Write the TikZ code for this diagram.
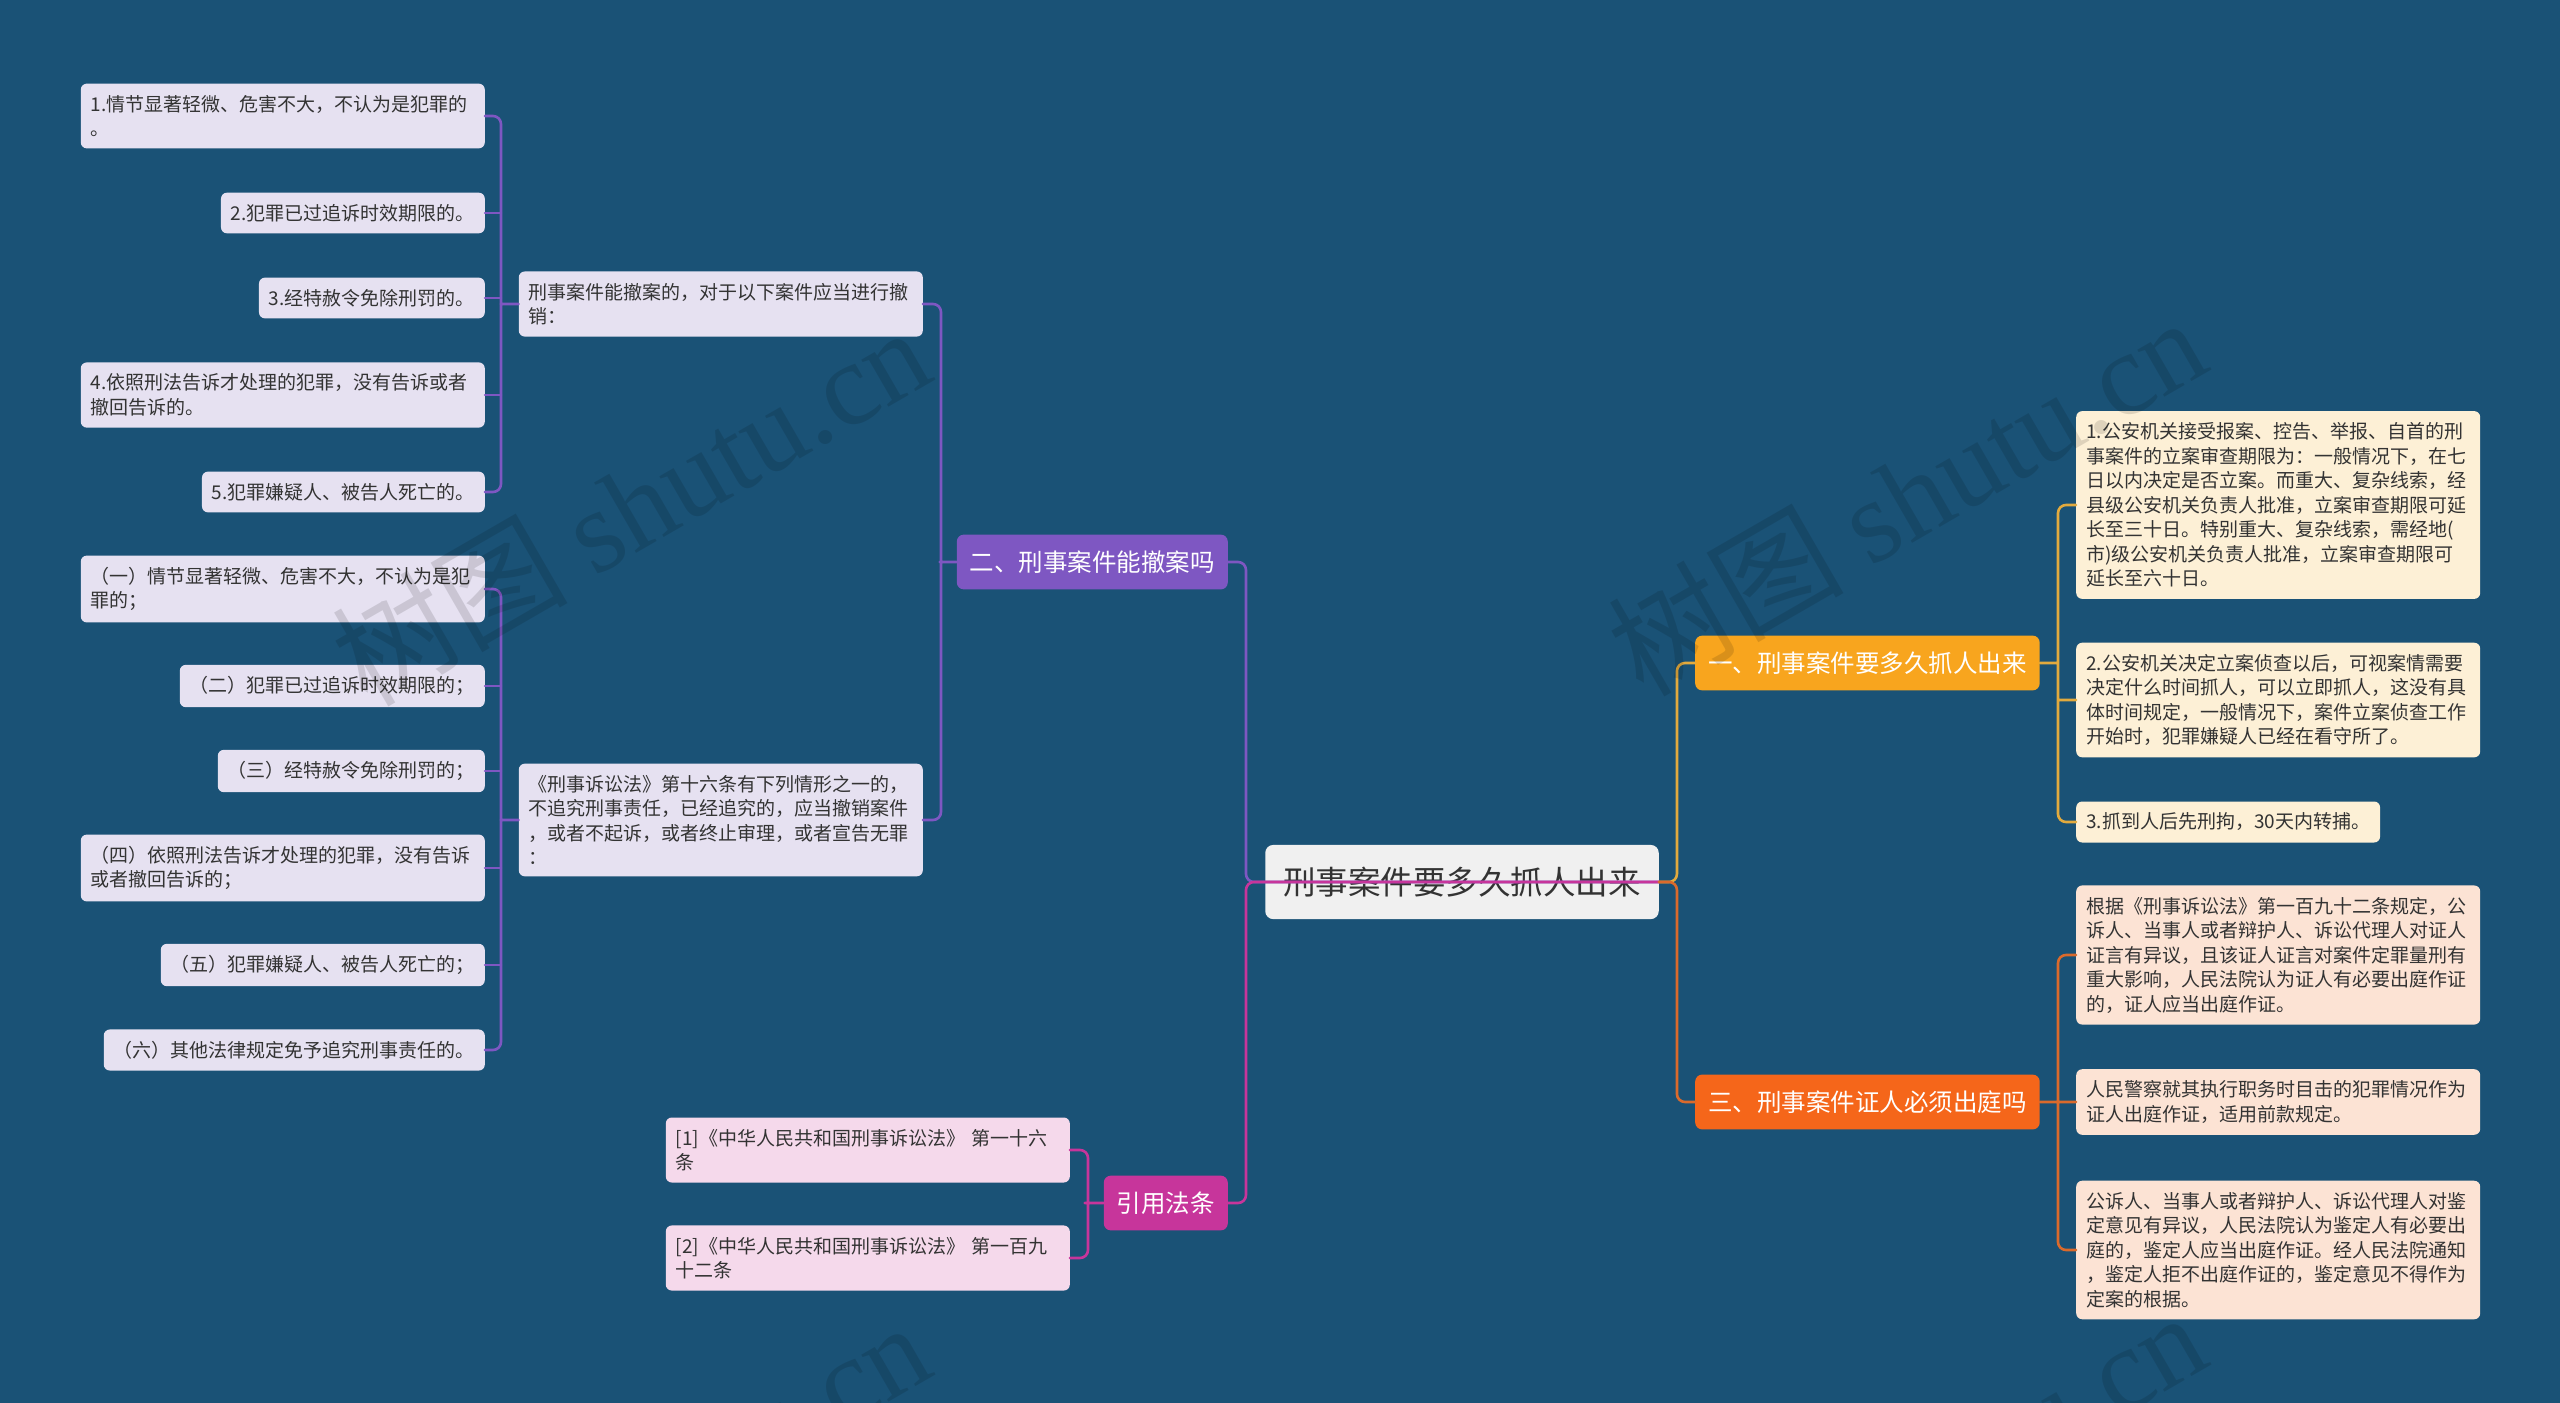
\documentclass[tikz,border=0pt]{standalone}
\usepackage{fontspec}
\newfontfamily\cjk{Noto Sans CJK SC}
\newfontfamily\wmlatin{Liberation Serif}
\definecolor{bgblue}{HTML}{1A5276}
\definecolor{rootfill}{HTML}{F0F0F0}
\definecolor{txtdark}{HTML}{333333}
\definecolor{purpmain}{HTML}{7E57C2}
\definecolor{purpleaf}{HTML}{E6E1F1}
\definecolor{magmain}{HTML}{C7359B}
\definecolor{magleaf}{HTML}{F5D9EB}
\definecolor{ambmain}{HTML}{F8A51E}
\definecolor{ambline}{HTML}{E2AA3E}
\definecolor{ambleaf}{HTML}{FDF0D6}
\definecolor{orgmain}{HTML}{F5661A}
\definecolor{orgline}{HTML}{DA6A2C}
\definecolor{orgleaf}{HTML}{FCE3D4}
\begin{document}
\begin{tikzpicture}[x=1pt, y=-1pt, line join=round, line cap=round,
	root/.style={fill=rootfill, text=txtdark, rounded corners=8pt, inner xsep=18pt, inner ysep=22pt, font=\cjk\fontsize{32.5}{36}\selectfont},
	branch/.style={text=white, rounded corners=7pt, inner xsep=13pt, inner ysep=16pt, font=\cjk\fontsize{24.5}{28}\selectfont},
	leaf/.style={text=txtdark, rounded corners=6pt, inner xsep=10pt, inner ysep=11.5pt, align=left, font=\cjk\fontsize{19}{24.5}\selectfont},
	wide/.style={text width=384pt},
	link/.style={line width=2.6pt, rounded corners=8pt},
	wmark/.style={rotate=30, text=black, opacity=0.12, font=\cjk\fontsize{118}{118}\selectfont}]
				\useasboundingbox (0,0) rectangle (2560,1403);
				\fill[bgblue] (0,0) rectangle (2560,1403);
				\path
				(1462,882) node[root] (root) {刑事案件要多久抓人出来}
				(1228,562) node[branch, fill=purpmain, anchor=east] (b2) {二、刑事案件能撤案吗}
				(1228,1203) node[branch, fill=magmain, anchor=east] (cite) {引用法条}
				(1695,663) node[branch, fill=ambmain, anchor=west] (r1) {一、刑事案件要多久抓人出来}
				(1695,1102) node[branch, fill=orgmain, anchor=west] (r3) {三、刑事案件证人必须出庭吗}
				;
				\path[every node/.append style={leaf, fill=purpleaf, anchor=east}]
				(923,304) node[wide] (sA) {刑事案件能撤案的，对于以下案件应当进行撤\\销：}
				(923,820) node[wide] (sB) {《刑事诉讼法》第十六条有下列情形之一的，\\不追究刑事责任，已经追究的，应当撤销案件\\，或者不起诉，或者终止审理，或者宣告无罪\\：}
				(485,116) node[wide] (a1) {1.情节显著轻微、危害不大，不认为是犯罪的\\。}
				(485,213) node (a2) {2.犯罪已过追诉时效期限的。}
				(485,298) node (a3) {3.经特赦令免除刑罚的。}
				(485,395) node[wide] (a4) {4.依照刑法告诉才处理的犯罪，没有告诉或者\\撤回告诉的。}
				(485,492) node (a5) {5.犯罪嫌疑人、被告人死亡的。}
				(485,589) node[wide] (b1) {（一）情节显著轻微、危害不大，不认为是犯\\罪的；}
				(485,686) node (b2a) {（二）犯罪已过追诉时效期限的；}
				(485,771) node (b3) {（三）经特赦令免除刑罚的；}
				(485,868) node[wide] (b4) {（四）依照刑法告诉才处理的犯罪，没有告诉\\或者撤回告诉的；}
				(485,965) node (b5) {（五）犯罪嫌疑人、被告人死亡的；}
				(485,1050) node (b6) {（六）其他法律规定免予追究刑事责任的。}
				;
				\path[every node/.append style={leaf, wide, fill=magleaf, anchor=east}]
				(1070,1150) node (c1) {[1]《中华人民共和国刑事诉讼法》 第一十六\\条}
				(1070,1258) node (c2) {[2]《中华人民共和国刑事诉讼法》 第一百九\\十二条}
				;
				\path[every node/.append style={leaf, fill=ambleaf, anchor=west}]
				(2076,505) node[wide] (d1) {1.公安机关接受报案、控告、举报、自首的刑\\事案件的立案审查期限为：一般情况下，在七\\日以内决定是否立案。而重大、复杂线索，经\\县级公安机关负责人批准，立案审查期限可延\\长至三十日。特别重大、复杂线索，需经地(\\市)级公安机关负责人批准，立案审查期限可\\延长至六十日。}
				(2076,700) node[wide] (d2) {2.公安机关决定立案侦查以后，可视案情需要\\决定什么时间抓人，可以立即抓人，这没有具\\体时间规定，一般情况下，案件立案侦查工作\\开始时，犯罪嫌疑人已经在看守所了。}
				(2076,822) node (d3) {3.抓到人后先刑拘，30天内转捕。}
				;
				\path[every node/.append style={leaf, wide, fill=orgleaf, anchor=west}]
				(2076,955) node (e1) {根据《刑事诉讼法》第一百九十二条规定，公\\诉人、当事人或者辩护人、诉讼代理人对证人\\证言有异议，且该证人证言对案件定罪量刑有\\重大影响，人民法院认为证人有必要出庭作证\\的，证人应当出庭作证。}
				(2076,1102) node (e2) {人民警察就其执行职务时目击的犯罪情况作为\\证人出庭作证，适用前款规定。}
				(2076,1250) node (e3) {公诉人、当事人或者辩护人、诉讼代理人对鉴\\定意见有异议，人民法院认为鉴定人有必要出\\庭的，鉴定人应当出庭作证。经人民法院通知\\，鉴定人拒不出庭作证的，鉴定意见不得作为\\定案的根据。}
				;
				\draw[link, purpmain] (b2.east)--++(18,0)|-(root.east);
				\draw[link, magmain] (cite.east)--++(18,0)|-(root.east);
				\draw[link, ambline] (root.east)--++(18,0)|-(r1.west);
				\draw[link, orgline] (root.east)--++(18,0)|-(r3.west);
				\draw[link, purpmain] (b2.west)--++(-17,0) (sA.east)--++(18,0)|-(sB.east);
				\draw[link, purpmain] (sA.west)--++(-18,0) (a1.east)--++(16,0)|-(a5.east);
				\draw[link, purpmain] (sB.west)--++(-18,0) (b1.east)--++(16,0)|-(b6.east);
				\foreach \n in {a2,a3,a4,b2a,b3,b4,b5}
					\draw[link, purpmain] (\n.east)--++(16,0);
				\draw[link, magmain] (cite.west)--++(-19,0) (c1.east)--++(18,0)|-(c2.east);
				\draw[link, ambline] (r1.east)--++(18,0) (d1.west)--++(-18,0)|-(d3.west) (d2.west)--++(-18,0);
				\draw[link, orgline] (r3.east)--++(18,0) (e1.west)--++(-18,0)|-(e3.west) (e2.west)--++(-18,0);
				\begin{scope}
					\clip (0,0) rectangle (2560,1403);
					\foreach \wx/\wy in {630/505,1906/495,630/1500,1906/1490}
						\node[wmark] at (\wx,\wy) {树图 {\wmlatin shutu.cn}};
				\end{scope}
			\end{tikzpicture}
\end{document}
